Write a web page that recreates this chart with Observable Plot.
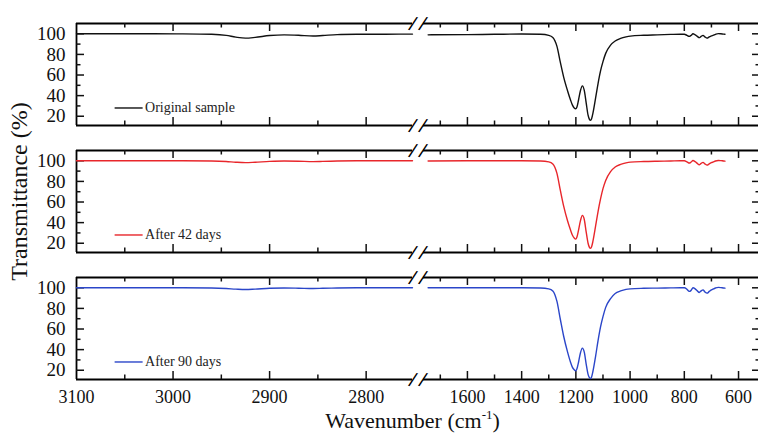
<!DOCTYPE html>
<html><head><meta charset="utf-8">
<script src="https://cdn.jsdelivr.net/npm/d3@7"></script>
<script src="https://cdn.jsdelivr.net/npm/@observablehq/plot@0.6"></script>
<style>
html,body{margin:0;padding:0;background:#fff;overflow:hidden}
#chart svg{display:block}
</style></head><body><div id="chart"></div>
<script>
// ---- data ----
const panels = ["Original sample", "After 42 days", "After 90 days"];
const colors = ["#111111", "#e8262b", "#2b46c9"];

const leftWn = [3100, 3060, 3020, 2990, 2960, 2945, 2935, 2925, 2915, 2900, 2885, 2870, 2855, 2845, 2830, 2810, 2780, 2752];
const leftOriginal = [100, 100, 100, 99.9, 99.5, 98.5, 96.8, 95.8, 96.5, 98.3, 99, 98.6, 97.8, 98.3, 99.2, 99.5, 99.6, 99.7];
const left42 = [100, 100, 100, 100, 99.8, 99.3, 98.6, 98.2, 98.6, 99.4, 99.8, 99.6, 99.2, 99.4, 99.8, 100, 100, 100];
const left90 = [100, 100, 100, 100, 99.8, 99.3, 98.7, 98.3, 98.7, 99.5, 99.8, 99.6, 99.3, 99.5, 99.8, 100, 100, 100];

const rightWn = [1745, 1600, 1500, 1400, 1330, 1300, 1285, 1270, 1257, 1245, 1231, 1220, 1213, 1206, 1201, 1196, 1190, 1183, 1176, 1169,
  1162, 1155, 1150, 1146, 1142, 1137, 1127, 1118, 1109, 1100, 1090, 1072, 1055, 1035, 1015, 999, 950, 900, 850, 815,
  800, 790, 782, 775, 768, 760, 752, 745, 738, 731, 724, 716, 708, 700, 694, 685, 675, 665, 655, 650];
const rightOriginal = [99.0, 99.2, 99.5, 99.8, 99.5, 98.5, 96.5, 88, 72, 58, 45, 36, 31, 28, 27.3, 29, 36, 45, 49.5, 45,
  33, 21, 17, 16, 17.5, 23, 38, 52, 64, 73, 81, 89, 93, 95.5, 97, 97.8, 98.6, 99, 99.4, 99.6,
  99.5, 98.5, 97.5, 98.5, 100, 99, 97.5, 96.3, 97.5, 98.5, 97, 95.8, 97, 98, 98.5, 99.5, 100.2, 100, 99.7, 99.6];
const right42 = [99.8, 100, 100, 100, 99.8, 99, 97, 88, 71, 56, 42, 33, 28, 25, 24, 26, 33, 42, 47, 43,
  31, 20, 16, 15, 16.5, 22, 37, 51, 63, 73, 81, 89.5, 94, 96.5, 98, 98.7, 99.3, 99.6, 99.8, 100,
  100, 99, 97.8, 98.8, 100.3, 99.2, 97.5, 96.2, 97.5, 98.5, 97, 95.8, 97, 98.2, 98.8, 99.8, 100.3, 100.2, 99.8, 99.7];
const right90 = [100, 100, 100, 100, 99.8, 99, 97, 87, 69, 53, 38, 28, 23, 20.5, 19.5, 21.5, 28, 37, 41.5, 37.5,
  26, 16, 12.8, 12, 13.5, 19, 34, 49, 62, 72, 81, 89.5, 94.5, 97, 98.5, 99, 99.5, 99.7, 99.9, 100,
  100, 98.5, 96.5, 97.5, 100, 99, 97, 95.5, 97, 98, 96, 94.8, 96.5, 98, 98.8, 99.8, 100.4, 100.2, 99.8, 99.7];

// broken axis: wavenumber breakpoints and their share of the axis length
const xBreaks = [3100, 2752, 1762, 519];
const xBreakShare = [0, 336, 347, 684];
const yDomain = [11, 110];
const xMajorTicks = [3100, 3000, 2900, 2800, 1600, 1400, 1200, 1000, 800, 600];
const xMinorTicks = [3050, 2950, 2850, 1700, 1500, 1300, 1100, 900, 700];
const yMajorTicks = [20, 40, 60, 80, 100];
const yMinorTicks = [30, 50, 70, 90];
const xTitle = "Wavenumber (cm-1)";
const yTitle = "Transmittance (%)";

// ---- build rows ----
const series = [[leftOriginal, rightOriginal], [left42, right42], [left90, right90]];
const rows = [];
panels.forEach((p, i) => {
  leftWn.forEach((w, j) => rows.push({panel: p, seg: "left", wn: w, t: series[i][0][j], col: colors[i]}));
  rightWn.forEach((w, j) => rows.push({panel: p, seg: "right", wn: w, t: series[i][1][j], col: colors[i]}));
});
const frameSegs = [
  {y: yDomain[1], x1: xBreaks[0], x2: xBreaks[1]}, {y: yDomain[1], x1: xBreaks[2], x2: xBreaks[3]},
  {y: yDomain[0], x1: xBreaks[0], x2: xBreaks[1]}, {y: yDomain[0], x1: xBreaks[2], x2: xBreaks[3]}
];
const breakMid = (xBreaks[1] + xBreaks[2]) / 2;
const brokenAxis = d3.scaleLinear().domain(xBreaks).range(xBreakShare);

// ---- layout ----
const W = 758, H = 435, mL = 76, mR = -2, mT = 22, mB = 56;
const frameW = W - mL - mR;
const bandH = 102;
const majorLen = 8, minorLen = 4.5;
const legendY = 28, legendX1 = 3060, legendX2 = 3031, legendTextX = 3029;

const plot = Plot.plot({
  width: W, height: H,
  marginLeft: mL, marginRight: mR, marginTop: mT, marginBottom: mB,
  style: {fontFamily: "'Liberation Serif', 'Times New Roman', serif", color: "#111", background: "#fff"},
  x: {type: "linear", transform: brokenAxis, nice: false, axis: null},
  y: {domain: yDomain},
  fy: {domain: panels, axis: null, paddingInner: 0.2, paddingOuter: 0},
  color: {type: "identity"},
  marks: [
    // frame
    Plot.ruleY(frameSegs, {y: "y", x1: "x1", x2: "x2", stroke: "#000", strokeWidth: 1.8}),
    Plot.ruleX([xBreaks[0], xBreaks[3]], {x: d => d, stroke: "#000", strokeWidth: 1.8}),
    // inward ticks
    Plot.tickX(xMajorTicks.slice(1), {x: d => d, insetBottom: bandH - majorLen, strokeWidth: 1.5}),
    Plot.tickX(xMajorTicks.slice(1), {x: d => d, insetTop: bandH - majorLen, strokeWidth: 1.5}),
    Plot.tickX(xMinorTicks, {x: d => d, insetBottom: bandH - minorLen, strokeWidth: 1.5}),
    Plot.tickX(xMinorTicks, {x: d => d, insetTop: bandH - minorLen, strokeWidth: 1.5}),
    Plot.tickY(yMajorTicks, {y: d => d, insetRight: frameW - majorLen, strokeWidth: 1.5}),
    Plot.tickY(yMajorTicks, {y: d => d, insetLeft: frameW - majorLen, strokeWidth: 1.5}),
    Plot.tickY(yMinorTicks, {y: d => d, insetRight: frameW - minorLen, strokeWidth: 1.5}),
    Plot.tickY(yMinorTicks, {y: d => d, insetLeft: frameW - minorLen, strokeWidth: 1.5}),
    // axis break marks
    Plot.text([yDomain[1], yDomain[0]], {x: () => breakMid, y: d => d, text: () => "/", dx: -5, fontSize: 18, fontFamily: "DejaVu Sans", rotate: 16, fill: "#000"}),
    Plot.text([yDomain[1], yDomain[0]], {x: () => breakMid, y: d => d, text: () => "/", dx: 5, fontSize: 18, fontFamily: "DejaVu Sans", rotate: 16, fill: "#000"}),
    // spectra
    Plot.line(rows, {x: "wn", y: "t", z: d => d.panel + d.seg, stroke: "col", fy: "panel", strokeWidth: 1.4, curve: "monotone-x"}),
    // legends
    Plot.ruleY(panels, {fy: d => d, y: () => legendY, x1: () => legendX1, x2: () => legendX2, stroke: (d, i) => colors[i], strokeWidth: 1.4}),
    Plot.text(panels, {fy: d => d, y: () => legendY, x: () => legendTextX, text: d => d, textAnchor: "start", fontSize: 14, fill: "#222"}),
    // axes
    Plot.axisY({ticks: yMajorTicks, tickSize: 0, tickPadding: 11, fontSize: 19, label: null}),
    Plot.text(xMajorTicks, {fy: () => panels[2], x: d => d, frameAnchor: "bottom", text: d => String(d), lineAnchor: "top", dy: 11, fontSize: 18, fill: "#111"}),
    // titles
    Plot.text([panels[2]], {fy: d => d, frameAnchor: "bottom", textAnchor: "middle", lineAnchor: "middle", text: () => xTitle, dy: 41, dx: -6, fontSize: 22, fill: "#111"}),
    Plot.text([panels[1]], {fy: d => d, frameAnchor: "left", textAnchor: "middle", lineAnchor: "middle", rotate: -90, text: () => yTitle, dx: -57, dy: -10, fontSize: 24, fill: "#111"})
  ]
});

// superscript in x title
d3.select(plot).selectAll("text").filter(function() { return this.textContent === xTitle; }).each(function() {
  const t = d3.select(this);
  t.text("");
  t.append("tspan").text("Wavenumber (cm");
  t.append("tspan").attr("dy", -9).attr("font-size", 13).text("-1");
  t.append("tspan").attr("dy", 9).text(")");
});

document.getElementById("chart").appendChild(plot);
</script>
</body></html>
